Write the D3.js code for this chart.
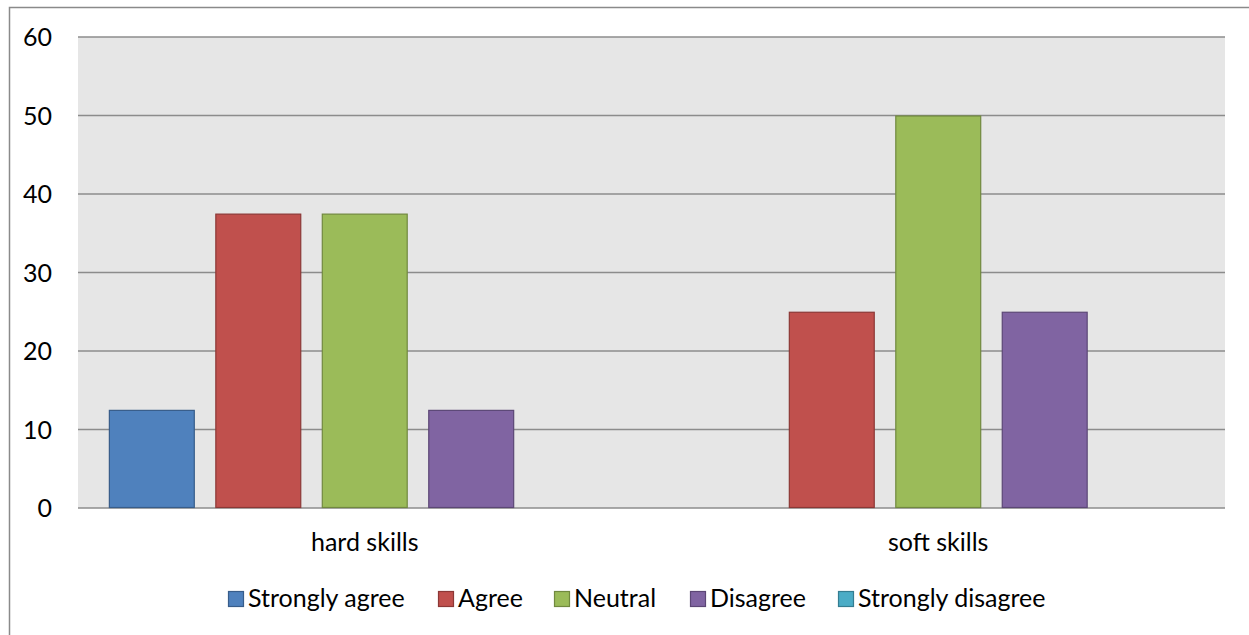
<!DOCTYPE html>
<html>
<head>
<meta charset="utf-8">
<script src="https://cdn.jsdelivr.net/npm/d3@7"></script>
<style>
  html, body { margin: 0; padding: 0; background: #fff; }
  svg { display: block; }
  text { font-family: "Lato", "Noto Sans", sans-serif; fill: #000; }
</style>
</head>
<body>
<svg id="chart" width="1249" height="635"></svg>
<script>
// Survey responses (percent) per skill type
const categories = ["hard skills", "soft skills"];
const seriesNames = ["Strongly agree", "Agree", "Neutral", "Disagree", "Strongly disagree"];
const stronglyAgree = [12.5, 0];
const agree = [37.5, 25];
const neutral = [37.5, 50];
const disagree = [12.5, 25];
const stronglyDisagree = [0, 0];
const yTicks = [0, 10, 20, 30, 40, 50, 60];

const seriesValues = [stronglyAgree, agree, neutral, disagree, stronglyDisagree];
const fills = ["#4F81BD", "#C0504D", "#9BBB59", "#8064A2", "#4BACC6"];
const strokes = ["#385D8A", "#8C3836", "#71893F", "#5C4776", "#357D91"];

const svg = d3.select("#chart");
const plot = { left: 78, right: 1225, top: 37, bottom: 508 };
const fontSize = 25;

// Outer chart frame (extends past the right/bottom of the canvas)
svg.append("rect")
  .attr("x", 9.5).attr("y", 7.5)
  .attr("width", 1260).attr("height", 660)
  .attr("fill", "none").attr("stroke", "#8a8a8a").attr("stroke-width", 1.5);

// Plot background
svg.append("rect")
  .attr("x", plot.left).attr("y", plot.top)
  .attr("width", plot.right - plot.left).attr("height", plot.bottom - plot.top)
  .attr("fill", "#E6E6E6");

const x0 = d3.scaleBand().domain(categories).range([plot.left, plot.right]).paddingInner(0).paddingOuter(0);
const x1 = d3.scaleBand().domain(seriesNames).range([0, x0.bandwidth()]).paddingInner(0.193).paddingOuter(0.29);
const y = d3.scaleLinear().domain([0, 60]).range([plot.bottom, plot.top]);

// Horizontal gridlines
svg.append("g").selectAll("line").data(yTicks).join("line")
  .attr("x1", plot.left).attr("x2", plot.right)
  .attr("y1", d => y(d)).attr("y2", d => y(d))
  .attr("stroke", "#8c8c8c").attr("stroke-width", 1.6);

// Y axis labels
const yAxis = d3.axisLeft(y).tickValues(yTicks).tickSize(0).tickPadding(0);
const yg = svg.append("g").attr("transform", `translate(52,0)`).call(yAxis);
yg.select(".domain").remove();
yg.selectAll("text").attr("font-size", fontSize).attr("font-family", "Lato, 'Noto Sans', sans-serif").attr("fill", "#000").attr("dy", "0.35em");

// Bars
const groups = svg.append("g").selectAll("g").data(categories).join("g")
  .attr("transform", d => `translate(${x0(d)},0)`);
groups.selectAll("rect")
  .data((c, ci) => seriesNames.map((s, si) => ({ s, si, v: seriesValues[si][ci] })).filter(d => d.v > 0))
  .join("rect")
  .attr("x", d => x1(d.s) + 0.5)
  .attr("y", d => y(d.v) + 0.5)
  .attr("width", x1.bandwidth() - 1)
  .attr("height", d => y(0) - y(d.v) - 1)
  .attr("fill", d => fills[d.si])
  .attr("stroke", d => strokes[d.si])
  .attr("stroke-width", 1.2);

// Category labels
svg.append("g").selectAll("text").data(categories).join("text")
  .attr("x", d => x0(d) + x0.bandwidth() / 2)
  .attr("y", 551)
  .attr("text-anchor", "middle")
  .attr("font-size", fontSize)
  .text(d => d);

// Legend
const legendX = [228, 438, 554, 690, 838];
const legend = svg.append("g").selectAll("g").data(seriesNames).join("g")
  .attr("transform", (d, i) => `translate(${legendX[i]},591)`);
legend.append("rect")
  .attr("x", 0.5).attr("y", 0.5).attr("width", 15).attr("height", 15)
  .attr("fill", (d, i) => fills[i]).attr("stroke", (d, i) => strokes[i]).attr("stroke-width", 1.2);
legend.append("text")
  .attr("x", 20).attr("y", 16)
  .attr("font-size", fontSize)
  .text(d => d);
</script>
</body>
</html>
